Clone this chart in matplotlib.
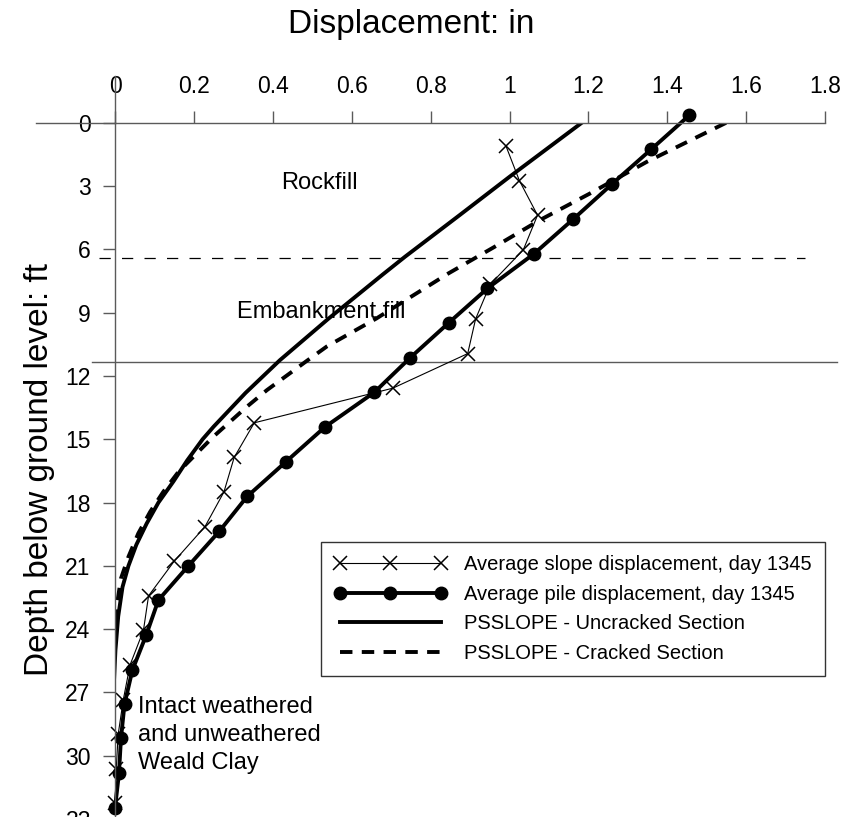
import matplotlib
matplotlib.use("Agg")
import matplotlib.pyplot as plt
import numpy as np

plt.rcParams['font.family'] = ['Liberation Sans', 'DejaVu Sans']

# average pile displacement, day 1345
pile_depth = [-0.36, 1.26, 2.9, 4.56, 6.21, 7.85, 9.48, 11.14, 12.78, 14.42, 16.07,
              17.71, 19.37, 21.0, 22.62, 24.28, 25.94, 27.56, 29.18, 30.83, 32.47]
pile_disp = [1.456, 1.359, 1.26, 1.162, 1.062, 0.944, 0.846, 0.748, 0.657, 0.532, 0.433,
             0.335, 0.264, 0.186, 0.110, 0.079, 0.044, 0.024, 0.015, 0.010, 0.0]

# average slope displacement, day 1345
slope_depth = [1.10, 2.74, 4.38, 6.02, 7.66, 9.30, 10.94, 12.58, 14.22, 15.86,
               17.50, 19.14, 20.78, 22.42, 24.06, 25.70, 27.34, 28.98, 30.62, 32.26]
slope_disp = [0.991, 1.025, 1.071, 1.035, 0.951, 0.914, 0.894, 0.704, 0.353, 0.302,
              0.276, 0.228, 0.150, 0.085, 0.072, 0.038, 0.021, 0.008, 0.003, 0.0]

# PSSLOPE uncracked section
unc_depth = [0, 2.56, 4.37, 6.35, 7.2, 9.3, 11.25, 12.8, 14.4, 15.0, 16.0, 17.0,
             18.0, 19.0, 20.0, 21.0, 22.0, 23.4, 25, 27, 30, 33]
unc_disp = [1.183, 1.0, 0.874, 0.735, 0.678, 0.54, 0.418, 0.331, 0.25, 0.222, 0.183, 0.148,
            0.11, 0.08, 0.054, 0.034, 0.019, 0.008, 0.001, -0.004, -0.006, -0.006]

# PSSLOPE cracked section
crk_depth = [0, 1.85, 3.35, 4.61, 5.88, 7.14, 8.25, 9.27, 10.6, 11.3, 12.67, 13.46,
             14.88, 15.67, 16.54, 17.5, 18.44, 19.46, 20.57, 21.6, 22.94, 25, 28, 33]
crk_disp = [1.549, 1.348, 1.204, 1.077, 0.962, 0.845, 0.750, 0.663, 0.537, 0.485, 0.385,
            0.334, 0.249, 0.207, 0.161, 0.122, 0.089, 0.059, 0.034, 0.015, 0.004,
            -0.005, -0.009, -0.009]

x_ticks = [0, 0.2, 0.4, 0.6, 0.8, 1, 1.2, 1.4, 1.6, 1.8]
x_ticklabels = ['0', '0.2', '0.4', '0.6', '0.8', '1', '1.2', '1.4', '1.6', '1.8']
y_ticks = [0, 3, 6, 9, 12, 15, 18, 21, 24, 27, 30, 33]

rockfill_base = 11.33
fill_top = 6.43

gray = '#5a5a5a'

fig = plt.figure(figsize=(8.44, 8.17), dpi=100)
ax = fig.add_axes([0.1363, -0.0283, 0.8413, 0.878])
ax.set_xlim(0, 1.8)
ax.set_ylim(34, 0)

ax.xaxis.tick_top()
ax.set_xticks(x_ticks)
ax.set_xticklabels(x_ticklabels)
ax.set_yticks(y_ticks)
ax.tick_params(axis='both', direction='out', length=8.6, width=1, color=gray,
               labelsize=16.5, pad=9)
for s in ['right', 'bottom']:
    ax.spines[s].set_visible(False)
for s in ['top', 'left']:
    ax.spines[s].set_color(gray)
    ax.spines[s].set_linewidth(1)

# extended axis lines
ax.plot([-0.2, 0], [0, 0], color=gray, lw=1, clip_on=False)
ax.plot([0, 0], [-2.2, 0], color=gray, lw=1, clip_on=False)

# layer boundaries
ax.plot([-0.058, 1.83], [rockfill_base, rockfill_base], color=gray, lw=1, clip_on=False)
ax.plot([-0.04, 1.75], [fill_top, fill_top], color='black', lw=0.9,
        dashes=(9, 9), clip_on=False)

ax.plot(slope_disp, slope_depth, color='black', lw=0.8, marker='x', ms=10, mew=1.1,
        label='Average slope displacement, day 1345', clip_on=False)
ax.plot(pile_disp, pile_depth, color='black', lw=2.8, marker='o', ms=9,
        label='Average pile displacement, day 1345', clip_on=False)
ax.plot(unc_disp, unc_depth, color='black', lw=2.8, solid_joinstyle='round',
        label='PSSLOPE - Uncracked Section')
ax.plot(crk_disp, crk_depth, color='black', lw=2.8, dashes=(3.2, 2.4),
        label='PSSLOPE - Cracked Section')

ax.text(0.519, 2.86, 'Rockfill', fontsize=17, ha='center', va='center')
ax.text(0.523, 8.96, 'Embankment fill', fontsize=17, ha='center', va='center')
ax.text(0.059, 29.02, 'Intact weathered\nand unweathered\nWeald Clay', fontsize=17,
        ha='left', va='center', linespacing=1.35)

leg = ax.legend(loc='upper left', bbox_to_anchor=(321 / 844, 1 - 542 / 817),
                bbox_transform=fig.transFigure, borderaxespad=0, fontsize=14.5,
                numpoints=3, handlelength=5.6, handletextpad=0.85, labelspacing=0.53,
                borderpad=0.65, fancybox=False, framealpha=1, edgecolor='#333333')
leg.get_frame().set_linewidth(1)

fig.text(411 / 844, 1 - 25 / 817, 'Displacement: in', fontsize=24, ha='center', va='center')
fig.text(40 / 844, 1 - 469 / 817, 'Depth below ground level: ft', fontsize=24,
         ha='center', va='center', rotation=90)

fig.savefig('out.png', dpi=100)
